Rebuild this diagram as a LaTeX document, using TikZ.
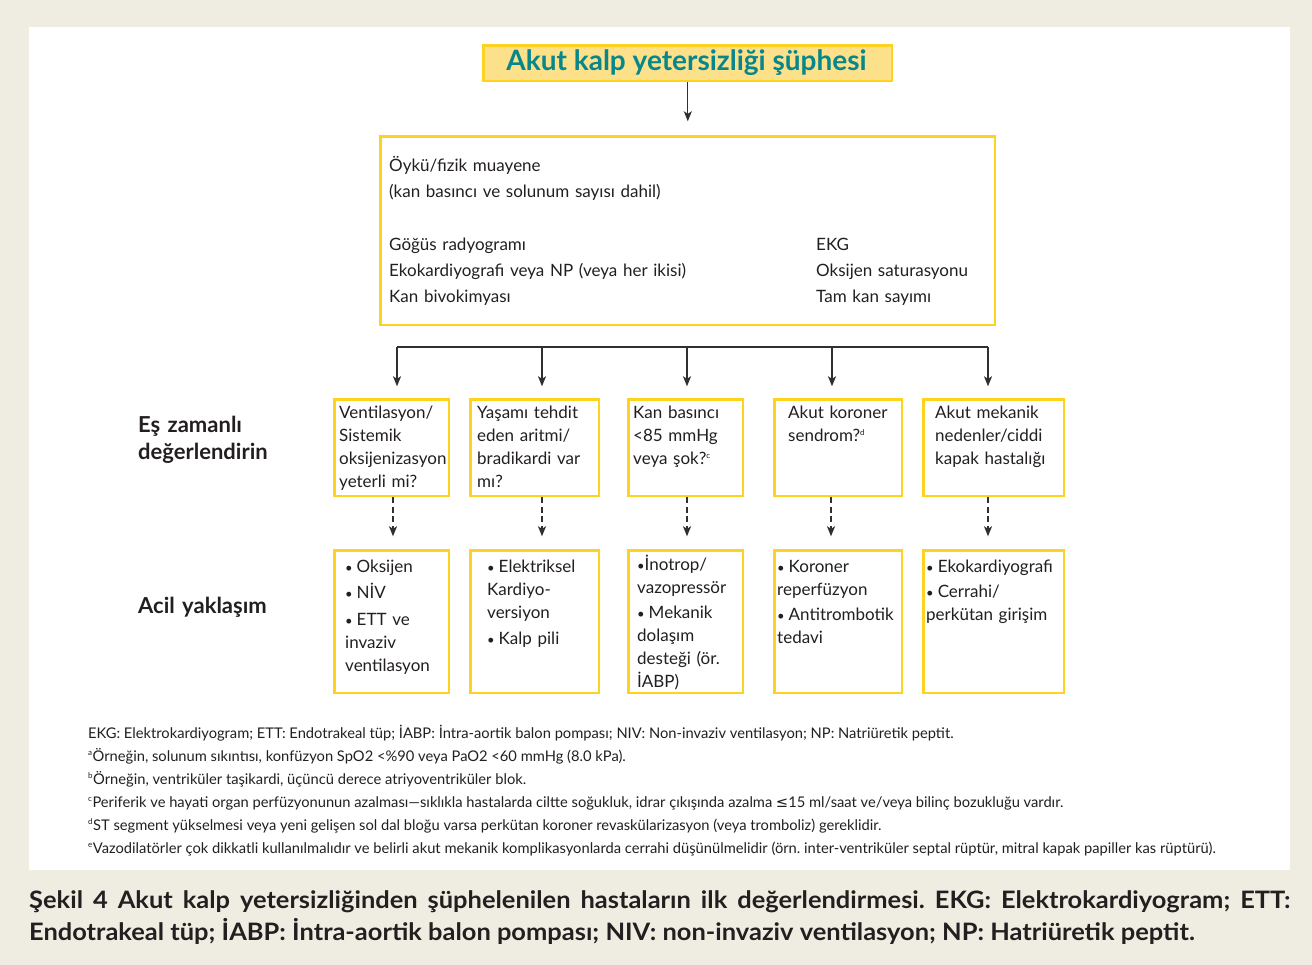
\documentclass[tikz,border=0pt]{standalone}
\usepackage{fontspec}
\setmainfont{Lato}
\newfontfamily\symfont{DejaVu Sans}
\newfontfamily\capfont[FakeStretch=1.06]{Lato}
\usetikzlibrary{arrows.meta}
\frenchspacing

\definecolor{pagebg}{HTML}{EFECE2}
\definecolor{boxline}{HTML}{FFD21F}
\definecolor{titlefill}{HTML}{FDE08A}
\definecolor{titleink}{HTML}{07868B}
\definecolor{ink}{HTML}{231F20}
\definecolor{arrowink}{HTML}{303030}

\newcommand{\fn}[1]{\textsuperscript{\fontsize{8}{8}\selectfont #1}}
\newcommand{\bul}{{\fontsize{13}{13}\selectfont•}\hspace{4pt}}

\begin{document}
\begin{tikzpicture}[x=1pt,y=-1pt,
  frame/.style={draw=boxline, line width=2.6pt, anchor=north west, inner sep=0pt},
  txt/.style={anchor=base west, inner sep=0pt, text=ink, align=left, text width=#1,
              font=\fontsize{17}{23}\selectfont},
  txt/.default=200pt,
  side/.style={anchor=base west, inner sep=0pt, text=ink, align=left, text width=200pt,
               font=\fontsize{22}{28}\selectfont\bfseries},
  note/.style={anchor=base west, inner sep=0pt, text=ink, font=\fontsize{14.7}{16}\selectfont},
  captext/.style={anchor=base west, inner sep=0pt, text=ink, font=\capfont\fontsize{24}{28}\selectfont\bfseries},
  conn/.style={draw=arrowink, line width=1.3pt},
  arr/.style={conn, -{Stealth[length=10pt,width=8pt,inset=2.5pt]}},
  dashedarr/.style={arr, dash pattern=on 6pt off 3.5pt},
]
% page and panel
\fill[pagebg] (0,0) rectangle (1312,965);
\fill[white] (29,27) rectangle (1290,870);
\useasboundingbox (0,0) rectangle (1312,965);

% heading
\node[frame, fill=titlefill, minimum width=408.4pt, minimum height=35.4pt] (title) at (482.3,44.3) {};
\node[inner sep=0pt, text=titleink, font=\fontsize{28}{30}\selectfont\bfseries, anchor=base]
  (titletext) at (686.5,71) {Akut kalp yetersizliği şüphesi};

% first assessment
\node[frame, minimum width=614.4pt, minimum height=188.4pt] (main) at (379.3,135.3) {};
\node[txt=400pt] (hist) at (389,172) {Öykü/fizik muayene\\[3pt](kan basıncı ve solunum sayısı dahil)};
\node[txt=400pt, font=\fontsize{17}{26}\selectfont] (testsL) at (389,251)
  {Göğüs radyogramı\\Ekokardiyografi veya NP (veya her ikisi)\\Kan bivokimyası};
\node[txt=170pt, font=\fontsize{17}{26}\selectfont] (testsR) at (816,251)
  {EKG\\Oksijen saturasyonu\\Tam kan sayımı};

% row labels
\node[side] (lblA) at (138,432) {Eş zamanlı\\değerlendirin};
\node[side] (lblB) at (138,613) {Acil yaklaşım};

% question boxes
\node[frame, minimum width=114.4pt, minimum height=96.4pt] (q1) at (333.3,398.3) {};
\node[frame, minimum width=128.4pt, minimum height=96.4pt] (q2) at (469.3,398.3) {};
\node[frame, minimum width=114.4pt, minimum height=96.4pt] (q3) at (627.3,398.3) {};
\node[frame, minimum width=127.4pt, minimum height=96.4pt] (q4) at (773.3,398.3) {};
\node[frame, minimum width=140.4pt, minimum height=96.4pt] (q5) at (922.3,398.3) {};

\node[txt] at ([shift={(5.7,20.7)}]q1.north west) {Ventilasyon/\\Sistemik\\oksijenizasyon\\yeterli mi?};
\node[txt] at ([shift={(7.7,20.7)}]q2.north west) {Yaşamı tehdit\\eden aritmi/\\bradikardi var\\mı?};
\node[txt] at ([shift={(5.7,20.7)}]q3.north west) {Kan basıncı\\<85 mmHg\\veya şok?\fn{c}};
\node[txt] at ([shift={(14.7,20.7)}]q4.north west) {Akut koroner\\sendrom?\fn{d}};
\node[txt] at ([shift={(12.7,20.7)}]q5.north west) {Akut mekanik\\nedenler/ciddi\\kapak hastalığı};

% action boxes
\node[frame, minimum width=114.4pt, minimum height=142.4pt] (r1) at (333.3,549.3) {};
\node[frame, minimum width=128.4pt, minimum height=142.4pt] (r2) at (469.3,549.3) {};
\node[frame, minimum width=114.4pt, minimum height=142.4pt] (r3) at (627.3,549.3) {};
\node[frame, minimum width=127.4pt, minimum height=142.4pt] (r4) at (773.3,549.3) {};
\node[frame, minimum width=140.4pt, minimum height=142.4pt] (r5) at (922.3,549.3) {};

\node[txt] at ([shift={(11.7,22.7)}]r1.north west) {\bul Oksijen\\[3pt]\bul NİV\\[4pt]\bul ETT ve\\invaziv\\ventilasyon};
\node[txt] at ([shift={(17.7,22.7)}]r2.north west) {\bul Elektriksel\\Kardiyo-\\versiyon\\[3pt]\bul Kalp pili};
\node[txt] at ([shift={(9.7,20.7)}]r3.north west) {{\fontsize{13}{13}\selectfont•}İnotrop/\\vazopressör\\[2pt]\bul Mekanik\\dolaşım\\desteği (ör.\\İABP)};
\node[txt] at ([shift={(3.7,22.7)}]r4.north west) {\bul Koroner\\reperfüzyon\\[2pt]\bul Antitrombotik\\tedavi};
\node[txt=140pt] at ([shift={(3.7,22.7)}]r5.north west) {\bul Ekokardiyografi\\[2pt]\bul Cerrahi/\\perkütan girişim};

% connectors
\draw[arr, shorten >=14pt] (title.south -| main.north) -- (main.north);

\coordinate (t1) at (397,347);
\coordinate (t2) at (542,347);
\coordinate (t3) at (687,347);
\coordinate (t4) at (832,347);
\coordinate (t5) at (988,347);
\draw[conn] (t1) -- (t5);
\foreach \k in {1,...,5}
  \draw[arr, shorten >=12pt] (t\k) -- (t\k |- q\k.north);

\coordinate (c1) at (393,0);
\coordinate (c2) at (542,0);
\coordinate (c3) at (687,0);
\coordinate (c4) at (831,0);
\coordinate (c5) at (988,0);
\foreach \k in {1,...,5}
  \draw[dashedarr, shorten >=13pt] (q\k.south -| c\k) -- (r\k.north -| c\k);

% notes
\node[note] (n0) at (88,738) {EKG: Elektrokardiyogram; ETT: Endotrakeal tüp; İABP: İntra-aortik balon pompası; NIV: Non-invaziv ventilasyon; NP: Natriüretik peptit.};
\node[note] (n1) at (88,761) {\fn{a}Örneğin, solunum sıkıntısı, konfüzyon SpO2 <\%90 veya PaO2 <60 mmHg (8.0 kPa).};
\node[note] (n2) at (88,784) {\fn{b}Örneğin, ventriküler taşikardi, üçüncü derece atriyoventriküler blok.};
\node[note] (n3) at (88,807) {\fn{c}Periferik ve hayati organ perfüzyonunun azalması—sıklıkla hastalarda ciltte soğukluk, idrar çıkışında azalma {\symfont ≤}15 ml/saat ve/veya bilinç bozukluğu vardır.};
\node[note] (n4) at (88,830) {\fn{d}ST segment yükselmesi veya yeni gelişen sol dal bloğu varsa perkütan koroner revaskülarizasyon (veya tromboliz) gereklidir.};
\node[note] (n5) at (88,853) {\fn{e}Vazodilatörler çok dikkatli kullanılmalıdır ve belirli akut mekanik komplikasyonlarda cerrahi düşünülmelidir (örn. inter-ventriküler septal rüptür, mitral kapak papiller kas rüptürü).};

% caption
\node[captext] (cap1) at (29,908) {\makebox[1261pt][s]{Şekil 4 Akut kalp yetersizliğinden şüphelenilen hastaların ilk değerlendirmesi. EKG: Elektrokardiyogram; ETT:}};
\node[captext] (cap2) at (29,940) {Endotrakeal tüp; İABP: İntra-aortik balon pompası; NIV: non-invaziv ventilasyon; NP: Hatriüretik peptit.};
\end{tikzpicture}
\end{document}
